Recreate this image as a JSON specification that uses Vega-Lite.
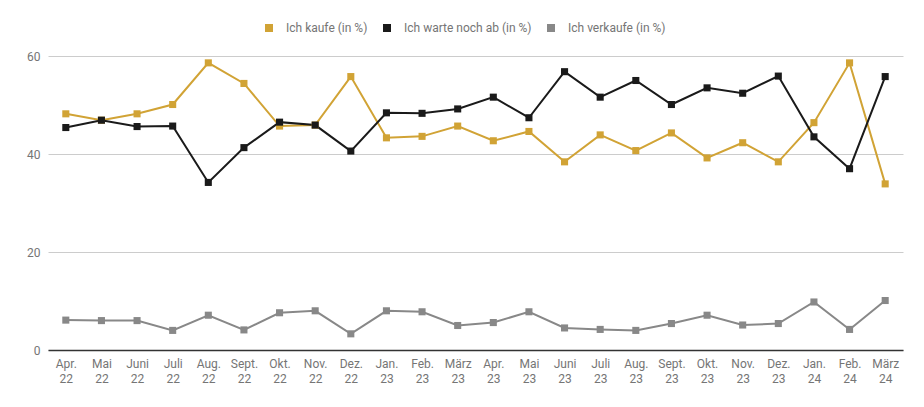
{
  "$schema": "https://vega.github.io/schema/vega-lite/v6.json",
  "width": 855,
  "height": 294,
  "autosize": "none",
  "padding": {"left": 48, "top": 56, "right": 21, "bottom": 57},
  "background": "white",
  "config": {
    "font": "Roboto",
    "view": {"stroke": null}
  },
  "data": {
    "values": [
      {"monat": "Apr. 22", "serie": "Ich kaufe (in %)", "wert": 48.2},
      {"monat": "Mai 22", "serie": "Ich kaufe (in %)", "wert": 46.9},
      {"monat": "Juni 22", "serie": "Ich kaufe (in %)", "wert": 48.2},
      {"monat": "Juli 22", "serie": "Ich kaufe (in %)", "wert": 50.1},
      {"monat": "Aug. 22", "serie": "Ich kaufe (in %)", "wert": 58.6},
      {"monat": "Sept. 22", "serie": "Ich kaufe (in %)", "wert": 54.4},
      {"monat": "Okt. 22", "serie": "Ich kaufe (in %)", "wert": 45.7},
      {"monat": "Nov. 22", "serie": "Ich kaufe (in %)", "wert": 45.9},
      {"monat": "Dez. 22", "serie": "Ich kaufe (in %)", "wert": 55.8},
      {"monat": "Jan. 23", "serie": "Ich kaufe (in %)", "wert": 43.3},
      {"monat": "Feb. 23", "serie": "Ich kaufe (in %)", "wert": 43.6},
      {"monat": "März 23", "serie": "Ich kaufe (in %)", "wert": 45.7},
      {"monat": "Apr. 23", "serie": "Ich kaufe (in %)", "wert": 42.7},
      {"monat": "Mai 23", "serie": "Ich kaufe (in %)", "wert": 44.6},
      {"monat": "Juni 23", "serie": "Ich kaufe (in %)", "wert": 38.4},
      {"monat": "Juli 23", "serie": "Ich kaufe (in %)", "wert": 43.9},
      {"monat": "Aug. 23", "serie": "Ich kaufe (in %)", "wert": 40.7},
      {"monat": "Sept. 23", "serie": "Ich kaufe (in %)", "wert": 44.3},
      {"monat": "Okt. 23", "serie": "Ich kaufe (in %)", "wert": 39.2},
      {"monat": "Nov. 23", "serie": "Ich kaufe (in %)", "wert": 42.3},
      {"monat": "Dez. 23", "serie": "Ich kaufe (in %)", "wert": 38.4},
      {"monat": "Jan. 24", "serie": "Ich kaufe (in %)", "wert": 46.4},
      {"monat": "Feb. 24", "serie": "Ich kaufe (in %)", "wert": 58.6},
      {"monat": "März 24", "serie": "Ich kaufe (in %)", "wert": 33.9},
      {"monat": "Apr. 22", "serie": "Ich warte noch ab (in %)", "wert": 45.4},
      {"monat": "Mai 22", "serie": "Ich warte noch ab (in %)", "wert": 46.9},
      {"monat": "Juni 22", "serie": "Ich warte noch ab (in %)", "wert": 45.6},
      {"monat": "Juli 22", "serie": "Ich warte noch ab (in %)", "wert": 45.7},
      {"monat": "Aug. 22", "serie": "Ich warte noch ab (in %)", "wert": 34.2},
      {"monat": "Sept. 22", "serie": "Ich warte noch ab (in %)", "wert": 41.3},
      {"monat": "Okt. 22", "serie": "Ich warte noch ab (in %)", "wert": 46.5},
      {"monat": "Nov. 22", "serie": "Ich warte noch ab (in %)", "wert": 45.9},
      {"monat": "Dez. 22", "serie": "Ich warte noch ab (in %)", "wert": 40.6},
      {"monat": "Jan. 23", "serie": "Ich warte noch ab (in %)", "wert": 48.4},
      {"monat": "Feb. 23", "serie": "Ich warte noch ab (in %)", "wert": 48.3},
      {"monat": "März 23", "serie": "Ich warte noch ab (in %)", "wert": 49.2},
      {"monat": "Apr. 23", "serie": "Ich warte noch ab (in %)", "wert": 51.6},
      {"monat": "Mai 23", "serie": "Ich warte noch ab (in %)", "wert": 47.4},
      {"monat": "Juni 23", "serie": "Ich warte noch ab (in %)", "wert": 56.8},
      {"monat": "Juli 23", "serie": "Ich warte noch ab (in %)", "wert": 51.6},
      {"monat": "Aug. 23", "serie": "Ich warte noch ab (in %)", "wert": 55.0},
      {"monat": "Sept. 23", "serie": "Ich warte noch ab (in %)", "wert": 50.1},
      {"monat": "Okt. 23", "serie": "Ich warte noch ab (in %)", "wert": 53.5},
      {"monat": "Nov. 23", "serie": "Ich warte noch ab (in %)", "wert": 52.4},
      {"monat": "Dez. 23", "serie": "Ich warte noch ab (in %)", "wert": 55.9},
      {"monat": "Jan. 24", "serie": "Ich warte noch ab (in %)", "wert": 43.5},
      {"monat": "Feb. 24", "serie": "Ich warte noch ab (in %)", "wert": 37.0},
      {"monat": "März 24", "serie": "Ich warte noch ab (in %)", "wert": 55.8},
      {"monat": "Apr. 22", "serie": "Ich verkaufe (in %)", "wert": 6.1},
      {"monat": "Mai 22", "serie": "Ich verkaufe (in %)", "wert": 6.0},
      {"monat": "Juni 22", "serie": "Ich verkaufe (in %)", "wert": 6.0},
      {"monat": "Juli 22", "serie": "Ich verkaufe (in %)", "wert": 4.0},
      {"monat": "Aug. 22", "serie": "Ich verkaufe (in %)", "wert": 7.1},
      {"monat": "Sept. 22", "serie": "Ich verkaufe (in %)", "wert": 4.1},
      {"monat": "Okt. 22", "serie": "Ich verkaufe (in %)", "wert": 7.6},
      {"monat": "Nov. 22", "serie": "Ich verkaufe (in %)", "wert": 8.0},
      {"monat": "Dez. 22", "serie": "Ich verkaufe (in %)", "wert": 3.3},
      {"monat": "Jan. 23", "serie": "Ich verkaufe (in %)", "wert": 8.0},
      {"monat": "Feb. 23", "serie": "Ich verkaufe (in %)", "wert": 7.8},
      {"monat": "März 23", "serie": "Ich verkaufe (in %)", "wert": 5.0},
      {"monat": "Apr. 23", "serie": "Ich verkaufe (in %)", "wert": 5.6},
      {"monat": "Mai 23", "serie": "Ich verkaufe (in %)", "wert": 7.8},
      {"monat": "Juni 23", "serie": "Ich verkaufe (in %)", "wert": 4.5},
      {"monat": "Juli 23", "serie": "Ich verkaufe (in %)", "wert": 4.2},
      {"monat": "Aug. 23", "serie": "Ich verkaufe (in %)", "wert": 4.0},
      {"monat": "Sept. 23", "serie": "Ich verkaufe (in %)", "wert": 5.4},
      {"monat": "Okt. 23", "serie": "Ich verkaufe (in %)", "wert": 7.1},
      {"monat": "Nov. 23", "serie": "Ich verkaufe (in %)", "wert": 5.1},
      {"monat": "Dez. 23", "serie": "Ich verkaufe (in %)", "wert": 5.4},
      {"monat": "Jan. 24", "serie": "Ich verkaufe (in %)", "wert": 9.8},
      {"monat": "Feb. 24", "serie": "Ich verkaufe (in %)", "wert": 4.2},
      {"monat": "März 24", "serie": "Ich verkaufe (in %)", "wert": 10.1}
    ]
  },
  "encoding": {
    "x": {
      "field": "monat",
      "type": "ordinal",
      "sort": null,
      "title": null,
      "scale": {"type": "point", "padding": 0.5},
      "axis": {
        "labelExpr": "split(datum.label, ' ')",
        "labelAngle": 0,
        "labelFontSize": 12,
        "labelLineHeight": 15,
        "labelColor": "#757575",
        "labelPadding": 8,
        "ticks": false,
        "domainColor": "#333333",
        "domainWidth": 1.5,
        "grid": false
      }
    },
    "y": {
      "field": "wert",
      "type": "quantitative",
      "title": null,
      "scale": {"domain": [0, 60], "nice": false},
      "axis": {
        "values": [0, 20, 40, 60],
        "domain": false,
        "ticks": false,
        "labelPadding": 8,
        "labelFontSize": 12,
        "labelColor": "#757575",
        "gridColor": "#cccccc",
        "gridWidth": 1
      }
    },
    "color": {
      "field": "serie",
      "type": "nominal",
      "title": null,
      "scale": {
        "domain": ["Ich kaufe (in %)", "Ich warte noch ab (in %)", "Ich verkaufe (in %)"],
        "range": ["#d1a335", "#1a1a1a", "#888888"]
      },
      "legend": {
        "orient": "none",
        "legendX": 215,
        "legendY": -34,
        "direction": "horizontal",
        "symbolType": "square",
        "symbolSize": 64,
        "symbolStrokeWidth": 0,
        "labelFontSize": 12,
        "labelColor": "#757575",
        "columnPadding": 13,
        "labelOffset": 11
      }
    }
  },
  "layer": [
    {"mark": {"type": "line", "strokeWidth": 2}},
    {"mark": {"type": "point", "shape": "square", "filled": true, "opacity": 1, "size": 50}}
  ]
}
